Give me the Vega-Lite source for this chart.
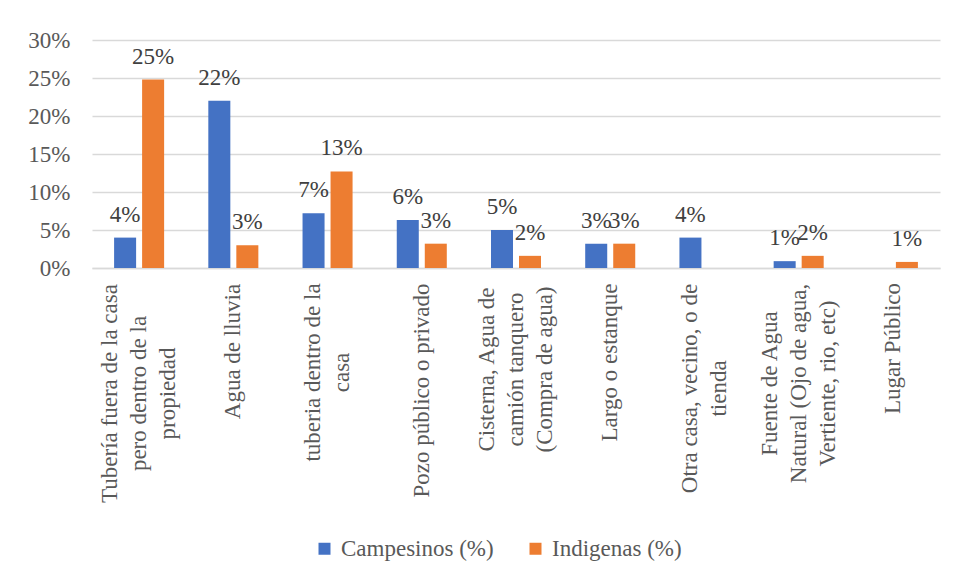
{
  "$schema": "https://vega.github.io/schema/vega-lite/v6.json",
  "autosize": {"type": "none"},
  "width": 848,
  "height": 228,
  "padding": {"left": 92, "top": 40, "right": 17, "bottom": 313},
  "background": "white",
  "config": {
    "view": {"stroke": null},
    "font": "Liberation Serif"
  },
  "data": {
    "values": [
      {"fuente": "Tubería fuera de la casa|pero dentro de la|propiedad", "grupo": "Campesinos (%)", "valor": 0.040},
      {"fuente": "Tubería fuera de la casa|pero dentro de la|propiedad", "grupo": "Indigenas (%)", "valor": 0.248},
      {"fuente": "Agua de lluvia", "grupo": "Campesinos (%)", "valor": 0.220},
      {"fuente": "Agua de lluvia", "grupo": "Indigenas (%)", "valor": 0.030},
      {"fuente": "tuberia dentro de la|casa", "grupo": "Campesinos (%)", "valor": 0.072},
      {"fuente": "tuberia dentro de la|casa", "grupo": "Indigenas (%)", "valor": 0.127},
      {"fuente": "Pozo público o privado", "grupo": "Campesinos (%)", "valor": 0.063},
      {"fuente": "Pozo público o privado", "grupo": "Indigenas (%)", "valor": 0.032},
      {"fuente": "Cisterna, Agua de|camión tanquero|(Compra de agua)", "grupo": "Campesinos (%)", "valor": 0.050},
      {"fuente": "Cisterna, Agua de|camión tanquero|(Compra de agua)", "grupo": "Indigenas (%)", "valor": 0.016},
      {"fuente": "Largo o estanque", "grupo": "Campesinos (%)", "valor": 0.032},
      {"fuente": "Largo o estanque", "grupo": "Indigenas (%)", "valor": 0.032},
      {"fuente": "Otra casa, vecino, o de|tienda", "grupo": "Campesinos (%)", "valor": 0.040},
      {"fuente": "Fuente de Agua|Natural (Ojo de agua,|Vertiente, rio, etc)", "grupo": "Campesinos (%)", "valor": 0.009},
      {"fuente": "Fuente de Agua|Natural (Ojo de agua,|Vertiente, rio, etc)", "grupo": "Indigenas (%)", "valor": 0.016},
      {"fuente": "Lugar Público", "grupo": "Indigenas (%)", "valor": 0.008}
    ]
  },
  "encoding": {
    "x": {
      "field": "fuente",
      "type": "nominal",
      "sort": null,
      "scale": {"paddingInner": 0.469, "paddingOuter": 0.2345},
      "axis": {
        "title": null,
        "labelAngle": -90,
        "labelAlign": "center",
        "labelBaseline": "middle",
        "labelExpr": "split(datum.value, '|')",
        "labelLineHeight": 29,
        "labelFontSize": 23,
        "labelColor": "#595959",
        "labelFont": "Liberation Serif",
        "labelLimit": 0,
        "ticks": false,
        "domain": true,
        "domainColor": "#D9D9D9",
        "domainWidth": 1.5,
        "grid": false,
        "labelOffset": {
          "condition": [
            {"test": "length(split(datum.value, '|')) === 3", "value": -29},
            {"test": "length(split(datum.value, '|')) === 2", "value": -14.5}
          ],
          "value": 0
        },
        "labelPadding": {
          "condition": [
            {"test": "indexof(datum.value, 'Tubería') === 0", "value": 125},
            {"test": "indexof(datum.value, 'Agua de') === 0", "value": 83},
            {"test": "indexof(datum.value, 'tuberia') === 0", "value": 104},
            {"test": "indexof(datum.value, 'Pozo') === 0", "value": 122},
            {"test": "indexof(datum.value, 'Cisterna') === 0", "value": 101},
            {"test": "indexof(datum.value, 'Largo') === 0", "value": 94},
            {"test": "indexof(datum.value, 'Otra') === 0", "value": 120},
            {"test": "indexof(datum.value, 'Fuente') === 0", "value": 115},
            {"test": "indexof(datum.value, 'Lugar') === 0", "value": 80}
          ],
          "value": 15
        }
      }
    },
    "xOffset": {
      "field": "grupo",
      "type": "nominal",
      "scale": {"domain": ["Campesinos (%)", "Indigenas (%)"], "paddingInner": 0.214, "paddingOuter": 0}
    },
    "y": {
      "field": "valor",
      "type": "quantitative",
      "scale": {"domain": [0, 0.3], "nice": false},
      "axis": {
        "title": null,
        "format": ".0%",
        "values": [0, 0.05, 0.1, 0.15, 0.2, 0.25, 0.3],
        "labelFontSize": 23,
        "labelColor": "#595959",
        "labelFont": "Liberation Serif",
        "labelPadding": 22,
        "ticks": false,
        "domain": false,
        "grid": true,
        "gridColor": "#D9D9D9",
        "gridWidth": 1.5
      }
    }
  },
  "layer": [
    {
      "mark": {"type": "bar"},
      "encoding": {
        "color": {
          "field": "grupo",
          "type": "nominal",
          "scale": {"domain": ["Campesinos (%)", "Indigenas (%)"], "range": ["#4472C4", "#ED7D31"]},
          "legend": {
            "title": null,
            "orient": "none",
            "direction": "horizontal",
            "legendX": 221,
            "legendY": 497,
            "padding": 0,
            "symbolType": "square",
            "symbolSize": 144,
            "symbolStrokeWidth": 0,
            "labelFontSize": 23,
            "labelFont": "Liberation Serif",
            "labelColor": "#595959",
            "labelOffset": 5,
            "columnPadding": 30,
            "labelLimit": 0
          }
        }
      }
    },
    {
      "mark": {"type": "text", "baseline": "alphabetic", "dy": -16, "fontSize": 23, "font": "Liberation Serif", "color": "#404040"},
      "encoding": {
        "text": {"field": "valor", "type": "quantitative", "format": ".0%"}
      }
    }
  ]
}
